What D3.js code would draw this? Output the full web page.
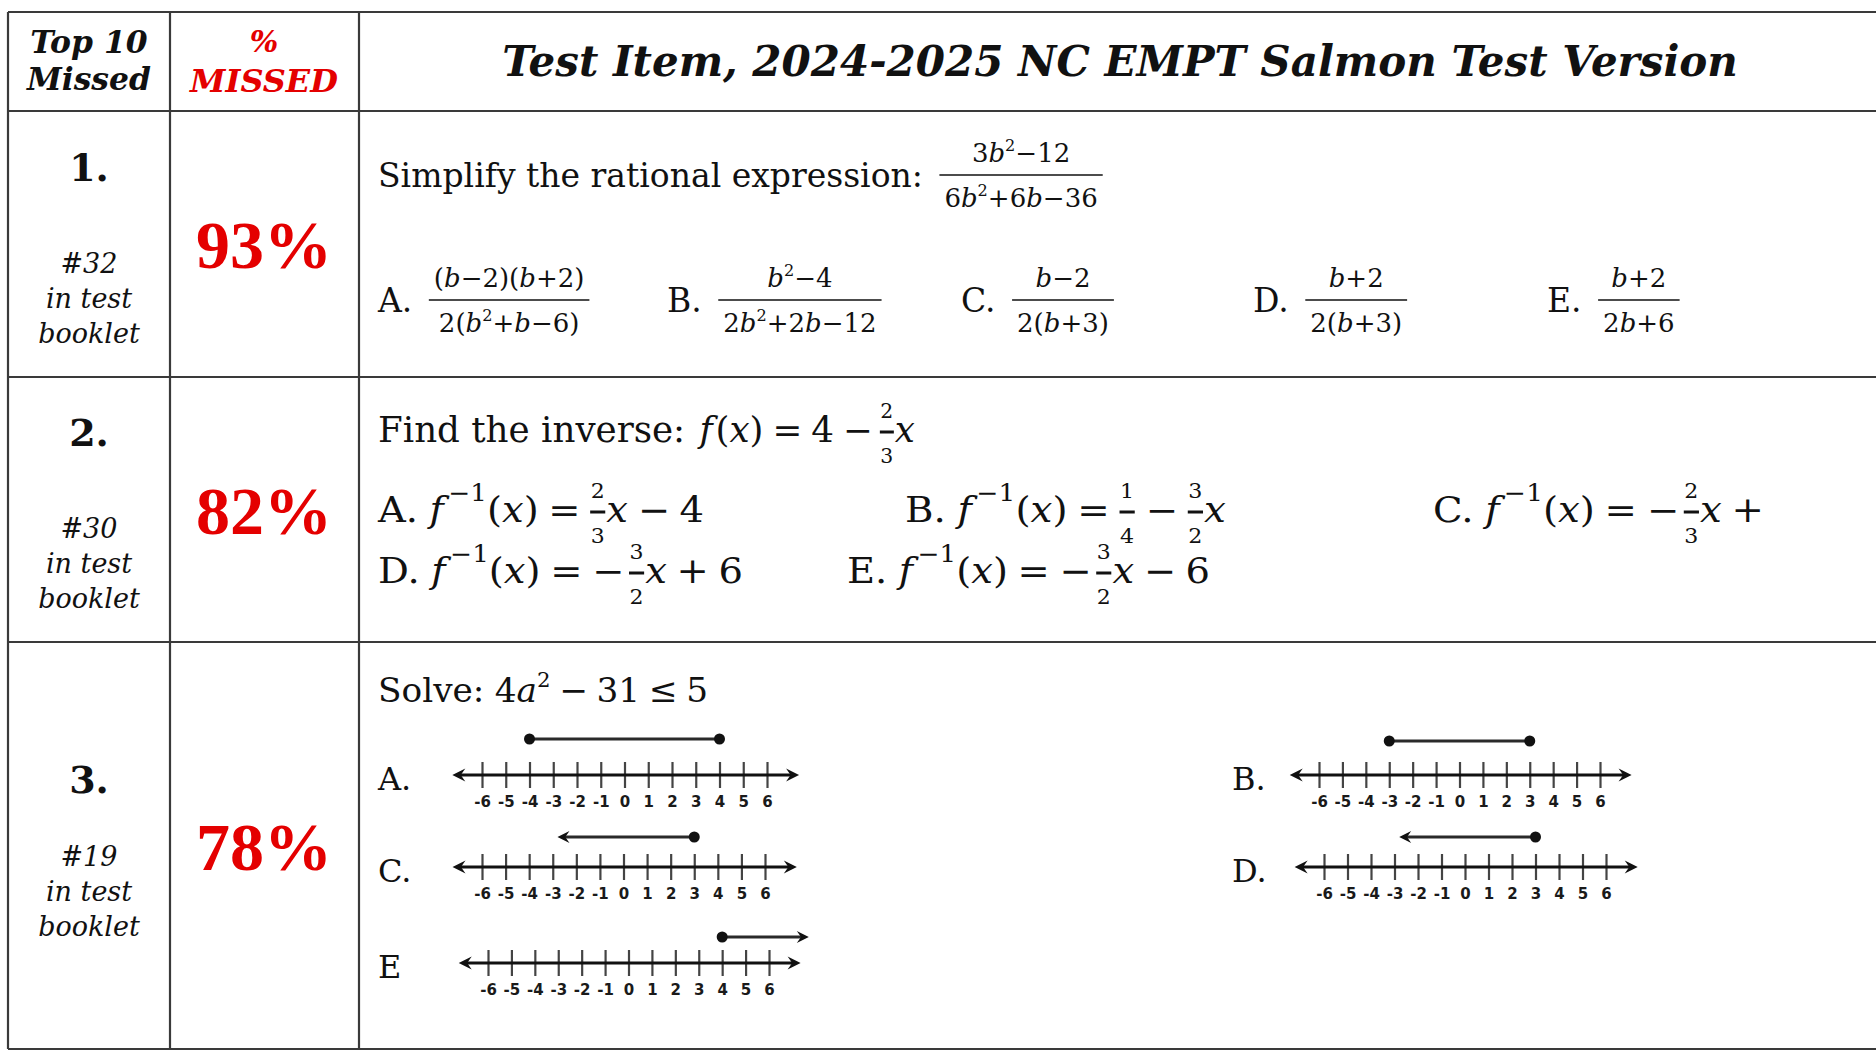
<!DOCTYPE html>
<html lang="en">
<head>
    <meta charset="UTF-8">
    <title>Top 10 Missed</title>
    <style>
        body { margin: 0; background: #fff; }
        svg { display: block; }
    </style>
</head>
<body>
<svg width="1876" height="1052"></svg>
<script src="https://d3js.org/d3.v7.min.js"></script>
<script>
    // token helpers for the little math layouts
    const T = s => ({ k: "t", s }),
        I = s => ({ k: "i", s }),
        S = s => ({ k: "s", s }),
        G = w => ({ k: "g", w }),
        F = (n, d) => ({ k: "fr", n, d }),
        F2 = (a, b) => F([T(a)], [T(b)]);

    // ---- table content ----
    const headLeft = ["Top 10", "Missed"];
    const headPct = ["%", "MISSED"];
    const title = "Test Item, 2024-2025 NC EMPT Salmon Test Version";
    const ranks = ["1.", "2.", "3."];
    const bookletItems = ["#32", "#30", "#19"];
    const pctMissed = [93, 82, 78];

    // item 1
    const stem1 = [T("Simplify the rational expression:"), G(0.5),
        F([T("3"), I("b"), S("2"), T("−12")], [T("6"), I("b"), S("2"), T("+6"), I("b"), T("−36")])];
    const opt1Labels = ["A.", "B.", "C.", "D.", "E."];
    const opt1Fracs = [
        F([T("("), I("b"), T("−2)("), I("b"), T("+2)")], [T("2("), I("b"), S("2"), T("+"), I("b"), T("−6)")]),
        F([I("b"), S("2"), T("−4")], [T("2"), I("b"), S("2"), T("+2"), I("b"), T("−12")]),
        F([I("b"), T("−2")], [T("2("), I("b"), T("+3)")]),
        F([I("b"), T("+2")], [T("2("), I("b"), T("+3)")]),
        F([I("b"), T("+2")], [T("2"), I("b"), T("+6")])
    ];

    // item 2
    const fInv = [I("f"), G(0.12), S("−1"), T("("), I("x"), T(")"), G(0.25), T("="), G(0.25)];
    const stem2 = [T("Find the inverse:"), G(0.4), I("f"), G(0.08), T("("), I("x"), T(")"), G(0.25), T("="), G(0.25),
        T("4"), G(0.25), T("−"), G(0.2), F2("2", "3"), I("x")];
    const opt2 = [
        [T("A."), G(0.3), ...fInv, F2("2", "3"), I("x"), G(0.25), T("−"), G(0.25), T("4")],
        [T("B."), G(0.3), ...fInv, F2("1", "4"), G(0.25), T("−"), G(0.25), F2("3", "2"), I("x")],
        [T("C."), G(0.3), ...fInv, T("−"), G(0.12), F2("2", "3"), I("x"), G(0.25), T("+")],
        [T("D."), G(0.3), ...fInv, T("−"), G(0.12), F2("3", "2"), I("x"), G(0.25), T("+"), G(0.25), T("6")],
        [T("E."), G(0.3), ...fInv, T("−"), G(0.12), F2("3", "2"), I("x"), G(0.25), T("−"), G(0.25), T("6")]
    ];

    // item 3 : number lines
    const stem3 = [T("Solve:"), G(0.3), T("4"), I("a"), S("2"), G(0.25), T("−"), G(0.25), T("31"),
        G(0.25), T("≤"), G(0.25), T("5")];
    const tickValues = [-6, -5, -4, -3, -2, -1, 0, 1, 2, 3, 4, 5, 6];
    const tickLabels = ["-6", "-5", "-4", "-3", "-2", "-1", "0", "1", "2", "3", "4", "5", "6"];
    const lineChoices = ["A.", "B.", "C.", "D.", "E"];
    const solLo = [-4, -3, null, null, 4];    // null = ray going left
    const solHi = [4, 3, 3, 3, null];         // null = ray going right
    const rayTo = [null, null, -2.8, -2.8, 7.7];

    // ---- drawing ----
    const svg = d3.select("svg").attr("font-family", "'DejaVu Serif', serif");
    const red = "#e40000", ink = "#111";
    const colX = [8, 170, 359, 1876],
        rowY = [12, 111, 377, 642, 1049];

    function layout(g, toks, x, y, fs, st) {
        let cx = x;
        toks.forEach(tk => {
            if (tk.k === "g") { cx += tk.w * fs; return; }
            if (tk.k === "fr") {
                const f = st.frac;
                const ng = g.append("g"), dg = g.append("g");
                const nw = layout(ng, tk.n, 0, y + f.num, f.fs, f);
                const dw = layout(dg, tk.d, 0, y + f.den, f.fs, f);
                const bw = Math.max(nw, dw) + f.pad;
                ng.attr("transform", `translate(${cx + (bw - nw) / 2},0)`);
                dg.attr("transform", `translate(${cx + (bw - dw) / 2},0)`);
                g.append("line")
                    .attr("x1", cx).attr("x2", cx + bw)
                    .attr("y1", y + f.bar).attr("y2", y + f.bar)
                    .attr("stroke", ink).attr("stroke-width", f.sw);
                cx += bw + f.after;
                return;
            }
            const sup = tk.k === "s";
            const t = g.append("text")
                .attr("x", cx)
                .attr("y", sup ? y - fs * st.supUp : y)
                .attr("font-size", sup ? fs * (st.supSize || 0.62) : fs)
                .attr("font-style", tk.k === "i" ? "italic" : null)
                .text(tk.s);
            cx += t.node().getComputedTextLength();
        });
        return cx - x;
    }

    function expr(toks, x, y, fs, st, width) {
        const g = svg.append("g").attr("fill", ink);
        const w = layout(g, toks, x, y, fs, st);
        if (width) g.attr("transform", `translate(${x},0) scale(${width / w},1) translate(${-x},0)`);
        return g;
    }

    function fitFont(t, width) {
        const w = t.node().getComputedTextLength();
        t.attr("font-size", +t.attr("font-size") * width / w);
        return t;
    }

    // grid
    svg.append("g").selectAll("line").data(rowY).join("line")
        .attr("x1", colX[0]).attr("x2", colX[3])
        .attr("y1", d => d).attr("y2", d => d)
        .attr("stroke", "#3a3a3a").attr("stroke-width", 2.2);
    svg.append("g").selectAll("line").data(colX.slice(0, 3)).join("line")
        .attr("x1", d => d).attr("x2", d => d)
        .attr("y1", rowY[0]).attr("y2", rowY[4])
        .attr("stroke", "#3a3a3a").attr("stroke-width", 2.2);

    // header
    const hl = svg.append("g").attr("font-weight", "bold").attr("font-style", "italic")
        .attr("text-anchor", "middle").attr("fill", ink);
    const hMissed = hl.append("text").attr("x", 89).attr("y", 90).attr("font-size", 30).text(headLeft[1]);
    fitFont(hMissed, 124);
    hl.append("text").attr("x", 89).attr("y", 53).attr("font-size", hMissed.attr("font-size")).text(headLeft[0]);
    hl.append("text").attr("x", 264).attr("y", 52).attr("font-size", 30).attr("fill", red).text(headPct[0]);
    fitFont(hl.append("text").attr("x", 264).attr("y", 92).attr("font-size", 30).attr("fill", red).text(headPct[1]), 148);
    fitFont(hl.append("text").attr("x", 1120).attr("y", 76).attr("font-size", 44).text(title), 1236);

    // left columns
    const rowTop = rowY.slice(1, 4);
    const rankBase = [181, 446, 793];
    const itemBase = [273, 538, 866];
    const left = svg.append("g").attr("text-anchor", "middle").attr("fill", ink);
    ranks.forEach((r, i) => {
        left.append("text").attr("x", 89).attr("y", rankBase[i])
            .attr("font-size", 38).attr("font-weight", "bold").text(r);
        [bookletItems[i], "in test", "booklet"].forEach((s, j) => {
            left.append("text").attr("x", 89).attr("y", itemBase[i] + j * 35)
                .attr("font-size", 27).attr("font-style", "italic").text(s);
        });
        left.append("text").attr("x", 264)
            .attr("y", (rowTop[i] + rowY[i + 2]) / 2 + 24)
            .attr("font-family", "'Liberation Serif', serif").attr("font-weight", "bold")
            .attr("font-size", 68).attr("fill", red)
            .text(pctMissed[i] + "%");
    });

    // item 1
    const fracBig = { fs: 26, num: -25, den: 20, bar: -12, pad: 10, sw: 1.6, after: 0, supUp: 0.42 };
    expr(stem1, 378, 187, 33, { supUp: 0.42, frac: fracBig });
    const opt1X = [378, 667, 961, 1253, 1547];
    opt1Labels.forEach((lab, i) => {
        expr([T(lab), G(0.5), opt1Fracs[i]], opt1X[i], 312, 33, { supUp: 0.42, frac: fracBig });
    });

    // item 2
    const fracSmall = { fs: 20, num: -24, den: 21, bar: -10, pad: 1, sw: 3, after: 1, supUp: 0.4 };
    const st2 = { supUp: 0.6, supSize: 0.68, frac: fracSmall };
    expr(stem2, 378, 442, 35, st2, 537);
    const opt2Pos = [[378, 522, 326], [905, 522, 321], [1433, 522, 331], [378, 583, 365], [847, 583, 363]];
    opt2.forEach((toks, i) => expr(toks, opt2Pos[i][0], opt2Pos[i][1], 35, st2, opt2Pos[i][2]));

    // item 3
    expr(stem3, 378, 702, 34, { supUp: 0.45 }, 330);

    const nlPos = [
        { lx: 378, x0: 482, x1: 767, y: 775, up: 36 },
        { lx: 1232, x0: 1319, x1: 1600, y: 775, up: 34 },
        { lx: 378, x0: 482, x1: 765, y: 867, up: 30 },
        { lx: 1232, x0: 1324, x1: 1606, y: 867, up: 30 },
        { lx: 378, x0: 488, x1: 769, y: 963, up: 26 }
    ];

    function arrowHead(tx, ty, dir, L, h) {
        return `M${tx},${ty}L${tx - dir * L},${ty - h}L${tx - dir * L * 0.65},${ty}L${tx - dir * L},${ty + h}Z`;
    }

    nlPos.forEach((p, i) => {
        const x = d3.scaleLinear().domain([-6, 6]).range([p.x0, p.x1]);
        const g = svg.append("g");

        g.append("text").attr("x", p.lx).attr("y", p.y + 15)
            .attr("font-size", 32).attr("fill", ink).text(lineChoices[i]);

        const ax = g.append("g").attr("transform", `translate(0,${p.y})`)
            .call(d3.axisBottom(x)
                .tickValues(tickValues)
                .tickSize(13)
                .tickPadding(8)
                .tickFormat((d, j) => tickLabels[j]));
        ax.select(".domain").remove();
        ax.selectAll(".tick line").attr("y1", -13).attr("stroke", "#444").attr("stroke-width", 2.2);
        ax.selectAll(".tick text")
            .attr("font-family", "'DejaVu Sans', sans-serif")
            .attr("font-weight", "bold").attr("font-size", 15).attr("fill", "#1a1a1a");

        // axis with arrows on both ends
        const xl = x(-7.25), xr = x(7.35);
        g.append("line").attr("x1", xl + 6).attr("x2", xr - 6)
            .attr("y1", p.y).attr("y2", p.y)
            .attr("stroke", ink).attr("stroke-width", 3.2);
        g.append("path").attr("d", arrowHead(xl, p.y, -1, 13, 6.5)).attr("fill", ink);
        g.append("path").attr("d", arrowHead(xr, p.y, 1, 13, 6.5)).attr("fill", ink);

        // solution set
        const iy = p.y - p.up;
        const lo = solLo[i] !== null ? solLo[i] : rayTo[i];
        const hi = solHi[i] !== null ? solHi[i] : rayTo[i];
        g.append("line")
            .attr("x1", x(lo) + (solLo[i] === null ? 6 : 0))
            .attr("x2", x(hi) - (solHi[i] === null ? 6 : 0))
            .attr("y1", iy).attr("y2", iy)
            .attr("stroke", "#2a2a2a").attr("stroke-width", 2.8);
        if (solLo[i] === null) g.append("path").attr("d", arrowHead(x(lo), iy, -1, 12, 6)).attr("fill", ink);
        if (solHi[i] === null) g.append("path").attr("d", arrowHead(x(hi), iy, 1, 12, 6)).attr("fill", ink);
        g.selectAll("circle").data([solLo[i], solHi[i]].filter(v => v !== null)).join("circle")
            .attr("cx", d => x(d)).attr("cy", iy).attr("r", 5.5).attr("fill", ink);
    });
</script>
</body>
</html>
